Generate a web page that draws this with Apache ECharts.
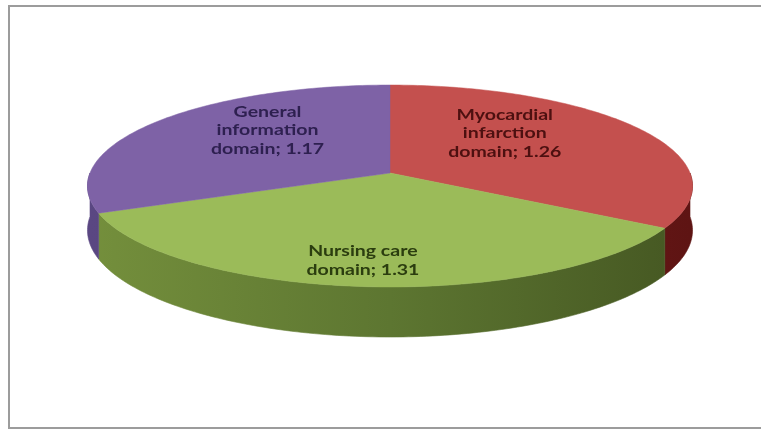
<!DOCTYPE html>
<html>
<head>
<meta charset="utf-8">
<script src="https://cdn.jsdelivr.net/npm/echarts@6/dist/echarts.min.js"></script>
<style>
html,body{margin:0;padding:0;background:#fff;overflow:hidden;}
#chart{width:761px;height:430px;}
</style>
</head>
<body>
<div id="chart"></div>
<script>
// ---- data ----
const categories = ['Myocardial infarction domain', 'Nursing care domain', 'General information domain'];
const values = [1.26, 1.31, 1.17];
const labelNames = ['Myocardial\ninfarction\ndomain', 'Nursing care\ndomain', 'General\ninformation\ndomain'];

// ---- style / layout ----
const topColors = ['#C4504E', '#9BBB59', '#7E62A6'];
const sideStops = [
  ['#8a2726', '#7a1f1e', '#5e1413'],
  ['#748f3c', '#5d7631', '#455722'],
  ['#5a4782', '#4f3d74', '#433364']
];
const labelColors = ['#4d1010', '#2b3d0f', '#2e2050'];
const CX = 390, CY = 173, RX = 300, RY = 99.3, H = 43.6, PERSP = 0.1287;
const labelAnchor = [[-12, -16], [-15, 35], [-2, -16]];

function proj(theta, r, h) {
  const u = r * Math.sin(theta), v = r * Math.cos(theta);
  const w = 1 + PERSP * v;
  return [CX + RX * u / w, CY + (-RY * v + h) / w];
}

const total = values.reduce((a, b) => a + b, 0);
let acc = 0;
const sliceData = values.map((v, i) => {
  const s = acc / total * Math.PI * 2;
  acc += v;
  const e = acc / total * Math.PI * 2;
  return { name: categories[i], value: [s, e, v, i] };
});

function renderSide(params, api) {
  const s = api.value(0), e = api.value(1), idx = api.value(3);
  const lo = Math.max(s, Math.PI / 2), hi = Math.min(e, Math.PI * 1.5);
  if (!(hi > lo)) return { type: 'group', children: [] };
  const steps = Math.max(2, Math.ceil((hi - lo) / (Math.PI / 180)));
  const topPts = [], botPts = [];
  for (let k = 0; k <= steps; k++) {
    const a = lo + (hi - lo) * k / steps;
    topPts.push(proj(a, 1, 0));
    botPts.push(proj(a, 1, H));
  }
  const pts = topPts.concat(botPts.reverse());
  const st = sideStops[idx];
  const grad = new echarts.graphic.LinearGradient(CX - RX, 0, CX + RX, 0, [
    { offset: 0, color: st[0] }, { offset: 0.5, color: st[1] }, { offset: 1, color: st[2] }
  ], true);
  return {
    type: 'polygon',
    shape: { points: pts },
    style: { fill: grad, stroke: grad, lineWidth: 0.6 }
  };
}

function renderTop(params, api) {
  const s = api.value(0), e = api.value(1), val = api.value(2), idx = api.value(3);
  const pts = [proj(0, 0, 0)];
  const steps = Math.ceil((e - s) / (Math.PI / 180));
  for (let k = 0; k <= steps; k++) pts.push(proj(s + (e - s) * k / steps, 1, 0));
  const mid = (s + e) / 2;
  const lp = proj(mid, 0.5, 0);
  return {
    type: 'group',
    children: [
      { type: 'polygon', shape: { points: pts }, style: { fill: topColors[idx], stroke: topColors[idx], lineWidth: 0.5 } },
      {
        type: 'text', x: lp[0] + labelAnchor[idx][0], y: lp[1] + labelAnchor[idx][1], scaleX: 1.3,
        style: {
          text: labelNames[idx] + '; ' + val.toFixed(2),
          fill: labelColors[idx], align: 'center', verticalAlign: 'middle',
          fontFamily: 'Lato', fontSize: 15, fontWeight: 'bold', lineHeight: 18.5
        }
      }
    ]
  };
}

const chart = echarts.init(document.getElementById('chart'), null, { renderer: 'canvas' });
chart.setOption({
  backgroundColor: '#ffffff',
  animation: false,
  graphic: [{
    type: 'polyline', shape: { points: [[770, 6], [9, 6], [9, 428], [770, 428]] },
    style: { fill: null, stroke: '#9c9c9c', lineWidth: 2 }, z: 0
  }],
  series: [
    { type: 'custom', coordinateSystem: 'none', renderItem: renderSide, data: sliceData, z: 2 },
    { type: 'custom', coordinateSystem: 'none', renderItem: renderTop, data: sliceData, z: 3 }
  ]
});
</script>
</body>
</html>
